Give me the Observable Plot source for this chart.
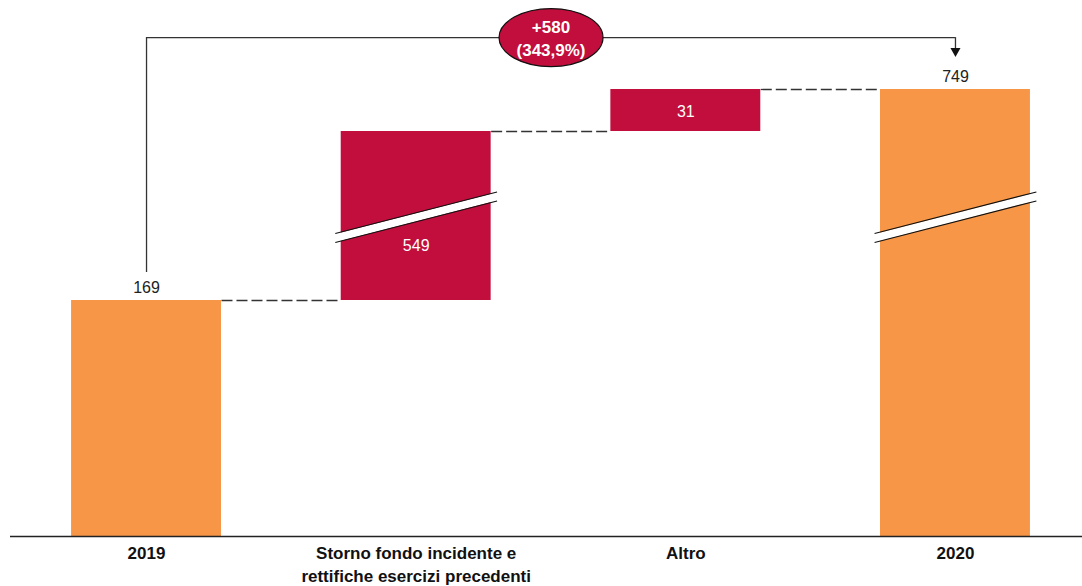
<!DOCTYPE html>
<html><head><meta charset="utf-8">
<script src="https://cdn.jsdelivr.net/npm/d3@7"></script>
<script src="https://cdn.jsdelivr.net/npm/@observablehq/plot@0.6"></script>
<style>body{margin:0;background:#fff;} svg{display:block}</style>
</head><body><div id="chart"></div>
<script>
// ---- data ----
const categories = ["2019", "Storno fondo incidente e\nrettifiche esercizi precedenti", "Altro", "2020"];
const kinds = ["total", "delta", "delta", "total"];
const values = [169, 549, 31, 749];
const brokenBars = [1, 3];            // bars drawn with an axis break
const breakSpan = [372, 507];         // break line values at left / right edge
const deltaText = ["+580", "(343,9%)"];
const annotationLevel = 787;          // level of the bracket above the bars
const scaleTop = 790;

// ---- derived table ----
let run = 0;
const bars = categories.map((c, i) => {
  const v = values[i];
  let y1, y2;
  if (kinds[i] === "total") { y1 = 0; y2 = v; } else { y1 = run; y2 = run + v; }
  run = y2;
  return {i, c, v, y1, y2, kind: kinds[i]};
});
const hw = 0.278;
const connectors = bars.slice(0, -1).map((b, k) => ({x1: b.i + hw, x2: bars[k + 1].i - hw, y: b.y2}));
const breaks = brokenBars.map(i => ({x1: i - 0.30, x2: i + 0.30, y1: breakSpan[0], y2: breakSpan[1]}));
const first = bars[0], last = bars[bars.length - 1];
const mid = (first.i + last.i) / 2;

const ellipse = {draw(ctx) {
  const rx = 52, ry = 29, k = 0.5523;
  ctx.moveTo(rx, 0);
  ctx.bezierCurveTo(rx, k * ry, k * rx, ry, 0, ry);
  ctx.bezierCurveTo(-k * rx, ry, -rx, k * ry, -rx, 0);
  ctx.bezierCurveTo(-rx, -k * ry, -k * rx, -ry, 0, -ry);
  ctx.bezierCurveTo(k * rx, -ry, rx, -k * ry, rx, 0);
  ctx.closePath();
}};
const downTriangle = {draw(ctx) {
  ctx.moveTo(-5, -4.5); ctx.lineTo(5, -4.5); ctx.lineTo(0, 4.5); ctx.closePath();
}};

const ORANGE = "#F79646", RED = "#C10E3C";

const chart = Plot.plot({
  width: 1082,
  height: 586,
  marginLeft: 10, marginRight: 0, marginTop: 0, marginBottom: 0,
  style: {fontFamily: "'Liberation Sans', Arial, sans-serif", background: "white"},
  x: {type: "linear", domain: [-0.5, 3.5], range: [11.2, 1089.8], axis: null},
  y: {type: "linear", domain: [0, bars[0].y2, bars[1].y2, bars[2].y2, scaleTop], range: [536, 300, 131, 89, 33], axis: null},
  marks: [
    Plot.rect(bars, {x1: d => d.i - hw, x2: d => d.i + hw, y1: "y1", y2: "y2", fill: d => d.kind === "total" ? ORANGE : RED}),
    Plot.link(connectors, {x1: "x1", x2: "x2", y1: "y", y2: "y", stroke: "#333", strokeWidth: 1.3, strokeDasharray: "11,4"}),
    Plot.link(breaks, {x1: "x1", x2: "x2", y1: "y1", y2: "y2", stroke: "white", strokeWidth: 8}),
    Plot.link(breaks, {x1: "x1", x2: "x2", y1: "y1", y2: "y2", stroke: "#111", strokeWidth: 1.1, dy: -4.5}),
    Plot.link(breaks, {x1: "x1", x2: "x2", y1: "y1", y2: "y2", stroke: "#111", strokeWidth: 1.1, dy: 4.5}),
    Plot.ruleY([0], {stroke: "#222", strokeWidth: 1.6}),
    // totals labels above
    Plot.text(bars.filter(d => d.kind === "total"), {x: "i", y: "y2", text: d => String(d.v), dy: -13, fontSize: 16, fill: "#222"}),
    // delta labels inside
    Plot.text([bars[1]], {x: "i", y: d => (d.y1 + d.y2) / 2, text: d => String(d.v), dy: 30, fontSize: 16, fill: "white"}),
    Plot.text([bars[2]], {x: "i", y: d => (d.y1 + d.y2) / 2, text: d => String(d.v), dy: 1, fontSize: 16, fill: "white"}),
    // category labels
    Plot.text(bars, {x: "i", y: 0, text: "c", lineAnchor: "top", dy: 5, fontSize: 17, fontWeight: "bold", lineHeight: 1.41, fill: "#111"}),
    // bracket annotation
    Plot.ruleX([first], {x: "i", y1: () => annotationLevel, y2: "y2", insetBottom: 28, stroke: "#333", strokeWidth: 1.3}),
    Plot.ruleY([annotationLevel], {x1: first.i, x2: last.i, stroke: "#333", strokeWidth: 1.3}),
    Plot.ruleX([last], {x: "i", y1: () => annotationLevel, y2: "y2", insetBottom: 39, stroke: "#333", strokeWidth: 1.3}),
    Plot.dot([last], {x: "i", y: "y2", dy: -37, symbol: downTriangle, fill: "#111", stroke: "none"}),
    Plot.dot([{x: mid, y: annotationLevel}], {x: "x", y: "y", symbol: ellipse, fill: RED, stroke: "#111", strokeWidth: 1.2}),
    Plot.text([{x: mid, y: annotationLevel}], {x: "x", y: "y", text: () => deltaText[0], dy: -10, fontSize: 17, fontWeight: "bold", fill: "white"}),
    Plot.text([{x: mid, y: annotationLevel}], {x: "x", y: "y", text: () => deltaText[1], dy: 13, fontSize: 17, fontWeight: "bold", fill: "white"})
  ]
});
document.getElementById("chart").appendChild(chart);
</script>
</body></html>
